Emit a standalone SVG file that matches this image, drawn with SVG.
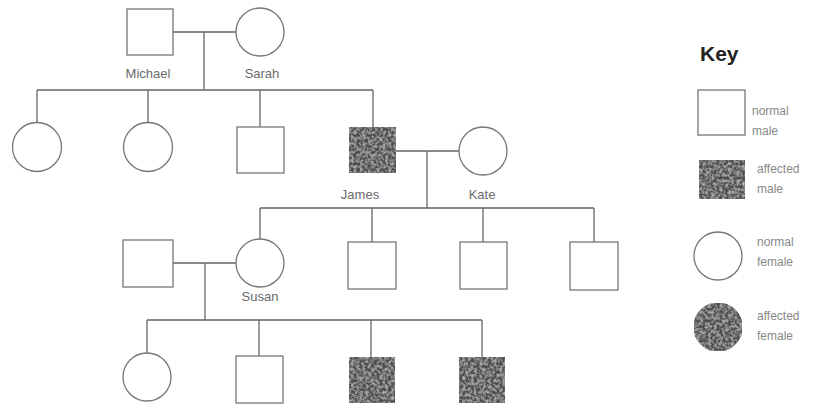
<svg xmlns="http://www.w3.org/2000/svg" width="824" height="410" viewBox="0 0 824 410">
<defs>
<filter id="speck" x="0" y="0" width="100%" height="100%">
<feTurbulence type="fractalNoise" baseFrequency="0.35" numOctaves="2" seed="3" result="n"/>
<feColorMatrix in="n" type="matrix" values="0 0 0 0 0.6  0 0 0 0 0.6  0 0 0 0 0.6  0 0 0 -1.6 1.0" result="d"/>
<feComposite in="d" in2="SourceGraphic" operator="in" result="c"/>
<feMerge><feMergeNode in="SourceGraphic"/><feMergeNode in="c"/></feMerge>
</filter>
</defs>
<style>
.n{fill:#fff;stroke:#777;stroke-width:1.3}
.a{fill:#4e4e4e;stroke:#555;stroke-width:1.2;filter:url(#speck)}
.l{fill:none;stroke:#666;stroke-width:1.3}
.t{font-family:"Liberation Sans",Arial,sans-serif;font-size:13px;fill:#6a6a6a;text-anchor:middle}
.k{font-family:"Liberation Sans",Arial,sans-serif;font-size:12px;fill:#888}
</style>
<rect width="824" height="410" fill="#fff"/>
<g id="connectors">
<path class="l" d="M173 32H236M204 32V90M37 90H373M37 90V123M148 90V123M260 90V127M373 90V127"/>
<path class="l" d="M396 151H459M427 151V208M260 208H594M260 208V239M372 208V242M483 208V242M594 208V242"/>
<path class="l" d="M173 263H236M205 263V320M147 320H482M147 320V353M259 320V356M371 320V357M482 320V357"/>
</g>
<g id="michael"><rect class="n" x="127" y="9" width="46" height="46"/><text class="t" x="148" y="78">Michael</text></g>
<g id="sarah"><circle class="n" cx="260" cy="32" r="24"/><text class="t" x="262" y="78">Sarah</text></g>
<g id="g2-daughter1"><circle class="n" cx="37" cy="147" r="24.5"/></g>
<g id="g2-daughter2"><circle class="n" cx="148" cy="147" r="24.5"/></g>
<g id="g2-son"><rect class="n" x="237" y="127" width="47" height="46"/></g>
<g id="james"><rect class="a" x="349" y="127" width="47" height="46"/><text class="t" x="360" y="199">James</text></g>
<g id="kate"><circle class="n" cx="483" cy="151" r="24"/><text class="t" x="482" y="199">Kate</text></g>
<g id="susan-husband"><rect class="n" x="123" y="240" width="50" height="47"/></g>
<g id="susan"><circle class="n" cx="260" cy="263" r="24"/><text class="t" x="260" y="301">Susan</text></g>
<g id="g3-son1"><rect class="n" x="348" y="242" width="48" height="47"/></g>
<g id="g3-son2"><rect class="n" x="460" y="242" width="47" height="47"/></g>
<g id="g3-son3"><rect class="n" x="570" y="242" width="48" height="48"/></g>
<g id="g4-daughter"><circle class="n" cx="147" cy="377" r="24"/></g>
<g id="g4-son1"><rect class="n" x="236" y="356" width="47" height="47"/></g>
<g id="g4-son2"><rect class="a" x="349" y="357" width="46" height="46"/></g>
<g id="g4-son3"><rect class="a" x="459" y="357" width="46" height="46"/></g>
<g id="key">
<text x="700" y="61" font-family="Liberation Sans,Arial,sans-serif" font-size="21" font-weight="bold" fill="#222">Key</text>
<rect class="n" x="698" y="90" width="47" height="45"/>
<text class="k" x="752" y="115">normal</text><text class="k" x="752" y="135">male</text>
<rect class="a" x="699" y="160" width="46" height="39"/>
<text class="k" x="757" y="173">affected</text><text class="k" x="757" y="193">male</text>
<circle class="n" cx="718" cy="256" r="24"/>
<text class="k" x="757" y="246">normal</text><text class="k" x="757" y="266">female</text>
<circle class="a" cx="718" cy="327" r="24"/>
<text class="k" x="757" y="320">affected</text><text class="k" x="757" y="340">female</text>
</g>
</svg>
